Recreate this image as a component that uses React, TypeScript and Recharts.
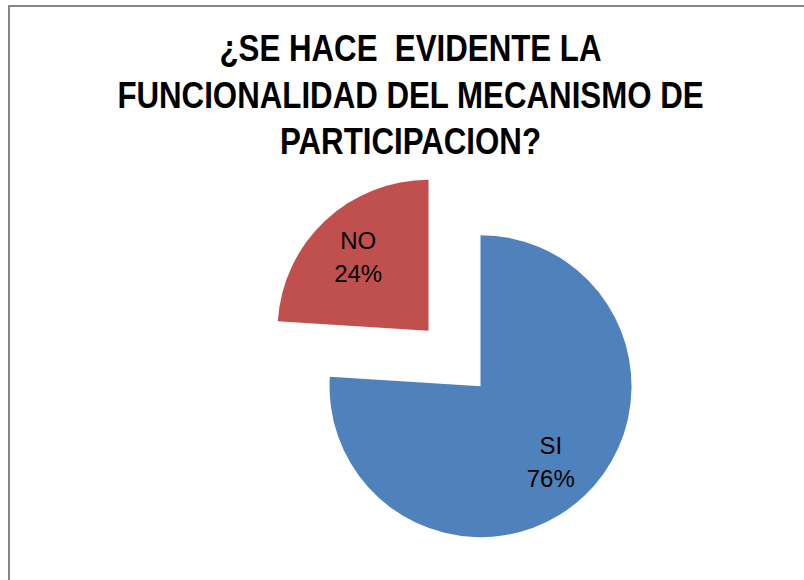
import React from "react";
import { PieChart, Pie, Cell } from "recharts";

const categories: string[] = ["SI", "NO"];
const values: number[] = [76, 24];
const colors: string[] = ["#4F81BD", "#C0504D"];
const titleLines: string[] = [
  "¿SE HACE  EVIDENTE LA",
  "FUNCIONALIDAD DEL MECANISMO DE",
  "PARTICIPACION?",
];

const W = 804;
const H = 580;
const BASE_CX = 454.5;
const BASE_CY = 358.5;
const RADIUS = 151;
const EXPLODE = 38;
const FONT = '"Liberation Sans", Arial, sans-serif';

const data = categories.map((name, i) => ({ name, value: values[i] }));
const total = values.reduce((a, b) => a + b, 0);

// centre of each exploded slice, pushed out along its bisector
const sliceCenters = values.map((v, i) => {
  const before = values.slice(0, i).reduce((a, b) => a + b, 0);
  const start = 90 - (360 * before) / total;
  const end = 90 - (360 * (before + v)) / total;
  const mid = ((start + end) / 2) * (Math.PI / 180);
  return {
    cx: BASE_CX + EXPLODE * Math.cos(mid),
    cy: BASE_CY - EXPLODE * Math.sin(mid),
  };
});

const makeLabel = (visible: number) => (props: any) => {
  if (props.index !== visible) return null;
  const rad = (props.midAngle * Math.PI) / 180;
  const r = props.outerRadius * 0.68;
  const x = props.cx + r * Math.cos(rad);
  const y = props.cy - r * Math.sin(rad);
  return (
    <text
      x={x}
      y={y}
      textAnchor="middle"
      fill="#000"
      fontFamily={FONT}
      fontSize={24}
    >
      <tspan x={x} dy={-7}>
        {props.name}
      </tspan>
      <tspan x={x} dy={33}>
        {`${Math.round((props.value / total) * 100)}%`}
      </tspan>
    </text>
  );
};

const App: React.FC = () => {
  return (
    <div
      style={{
        position: "absolute",
        left: 0,
        top: 0,
        width: W,
        height: H,
        overflow: "hidden",
        background: "#fff",
      }}
    >
      <div
        style={{
          position: "absolute",
          left: 8,
          top: 5,
          width: 900,
          height: 700,
          border: "2px solid #868686",
        }}
      />
      {titleLines.map((line, i) => (
        <div
          key={line}
          style={{
            position: "absolute",
            left: 0,
            width: 821,
            top: 29 + i * 46.5,
            textAlign: "center",
            whiteSpace: "pre",
            fontFamily: FONT,
            fontWeight: "bold",
            fontSize: 36,
            lineHeight: "40px",
            color: "#000",
            transform: "scaleX(0.868)",
            transformOrigin: "410.5px 0",
          }}
        >
          {line}
        </div>
      ))}
      <div style={{ position: "absolute", left: 0, top: 0 }}>
        <PieChart
          width={W}
          height={H}
          margin={{ top: 0, right: 0, bottom: 0, left: 0 }}
        >
          {sliceCenters.map((c, k) => (
            <Pie
              key={categories[k]}
              data={data}
              dataKey="value"
              nameKey="name"
              cx={c.cx}
              cy={c.cy}
              outerRadius={RADIUS}
              startAngle={90}
              endAngle={-270}
              stroke="none"
              labelLine={false}
              label={makeLabel(k)}
              isAnimationActive={false}
            >
              {data.map((d, i) => (
                <Cell
                  key={d.name}
                  fill={i === k ? colors[i] : "transparent"}
                />
              ))}
            </Pie>
          ))}
        </PieChart>
      </div>
    </div>
  );
};

export default App;
